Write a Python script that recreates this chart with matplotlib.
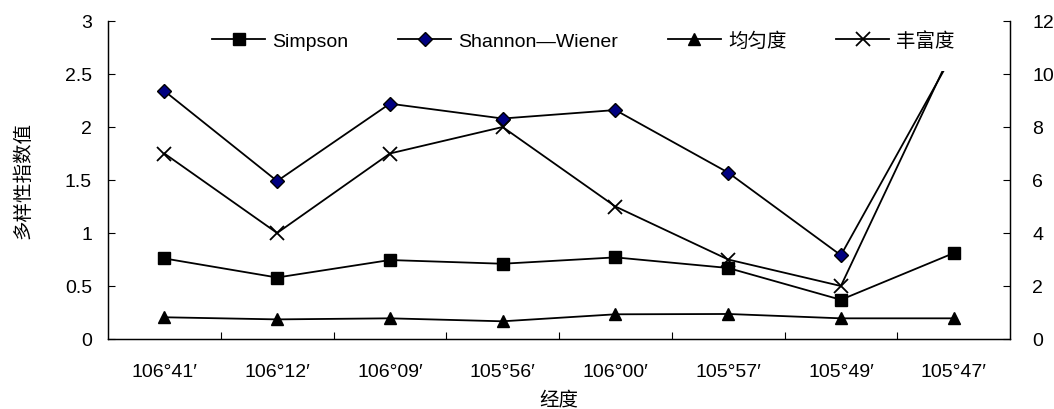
# Diversity indices along the longitude gradient (two y axes, Excel-style line chart)

import numpy as np
import matplotlib
matplotlib.use("Agg")
import matplotlib.pyplot as plt

plt.rcParams["font.family"] = ["Liberation Sans", "Noto Sans CJK SC", "DejaVu Sans"]

# Data
longitude = ["106°41′", "106°12′", "106°09′", "105°56′", "106°00′", "105°57′", "105°49′", "105°47′"]
simpson = [0.76, 0.58, 0.745, 0.71, 0.77, 0.67, 0.37, 0.81]
shannon = [2.34, 1.49, 2.22, 2.08, 2.16, 1.57, 0.79, 2.70]
evenness = [0.205, 0.185, 0.195, 0.167, 0.233, 0.236, 0.195, 0.195]
richness = [7, 4, 7, 8, 5, 3, 2, 11]

x = np.arange(len(longitude))
fs = 14

fig = plt.figure(figsize=(10.54, 4.10), dpi=100)
ax = fig.add_axes([108 / 1054, 70 / 410, 902 / 1054, 318 / 410])
ax2 = ax.twinx()

lw = 1.3
h1, = ax.plot(x, simpson, color="black", lw=lw, marker="s", ms=8,
              mfc="black", mec="black", label="Simpson")
h2, = ax.plot(x, shannon, color="black", lw=lw, marker="D", ms=7,
              mfc="#000080", mec="black", mew=1, label="Shannon—Wiener")
h3, = ax.plot(x, evenness, color="black", lw=lw, marker="^", ms=9,
              mfc="black", mec="black", label="均匀度")
h4, = ax2.plot(x, richness, color="black", lw=lw, marker="x", ms=10,
               mew=1.3, label="丰富度")

ax.set_xlim(-0.5, len(longitude) - 0.5)
ax.set_ylim(0, 3)
ax2.set_ylim(0, 12)
ax.set_yticks(np.arange(0, 3.01, 0.5))
ax.set_yticklabels(["0", "0.5", "1", "1.5", "2", "2.5", "3"])
ax2.set_yticks(np.arange(0, 12.1, 2))

ax.set_xticks(x)
ax.set_xticklabels(longitude)
ax.set_xticks(np.arange(0.5, len(longitude) - 1, 1), minor=True)
ax.tick_params(axis="x", which="major", length=0, pad=17, labelsize=fs)
ax.tick_params(axis="x", which="minor", direction="in", length=5, width=0.8)
ax.tick_params(axis="y", direction="in", length=5, width=0.8, labelsize=fs, pad=11.5)
ax2.tick_params(axis="y", direction="in", length=5, width=0.8, labelsize=fs, pad=16)

for a in (ax, ax2):
    a.spines["top"].set_visible(False)
    for s in ("left", "right", "bottom"):
        a.spines[s].set_linewidth(0.9)

ax.set_xlabel("经度", fontsize=fs, labelpad=8)
ax.set_ylabel("多样性指数值", fontsize=fs, labelpad=23)

# white legend box without border; it hides the top of the last segments like the original
leg = ax2.legend(handles=[h1, h2, h3, h4], loc="upper right",
                 bbox_to_anchor=(0.962, 1.033), borderaxespad=0, ncol=4,
                 fontsize=fs, frameon=True, fancybox=False, handlelength=2.75,
                 columnspacing=2.55, handletextpad=0.35, borderpad=1.08)
leg.get_frame().set_facecolor("white")
leg.get_frame().set_edgecolor("none")
leg.get_frame().set_alpha(1)

fig.savefig("out.png", dpi=100)
